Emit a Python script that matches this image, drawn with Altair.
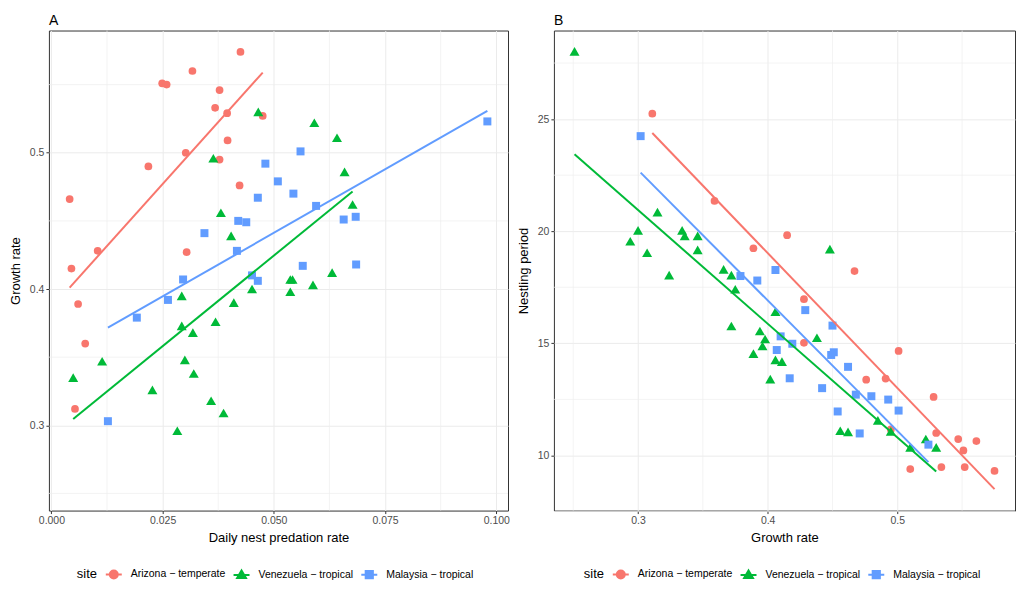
import altair as alt
import pandas as pd

SITES = ["Arizona − temperate", "Venezuela − tropical", "Malaysia − tropical"]
COLORS = ["#F8766D", "#00BA38", "#619CFF"]
SHAPES = ["circle", "triangle-up", "square"]
SIZES = [60, 100, 64]

# ---------- Panel A: daily nest predation rate vs growth rate ----------
A_AZ_PRED = [0.0041, 0.0045, 0.0060, 0.0076, 0.0053, 0.0104, 0.0218, 0.0249, 0.0259, 0.0317,
             0.0302, 0.0304, 0.0368, 0.0378, 0.0378, 0.0395, 0.0396, 0.0425, 0.0423, 0.0475]
A_AZ_GROWTH = [0.466, 0.415, 0.389, 0.360, 0.312, 0.428, 0.490, 0.551, 0.550, 0.560,
               0.500, 0.427, 0.533, 0.546, 0.495, 0.529, 0.509, 0.574, 0.476, 0.527]

A_VE_PRED = [0.0049, 0.0114, 0.0227, 0.0283, 0.0293, 0.0293, 0.0300, 0.0318, 0.0320, 0.0359,
             0.0387, 0.0369, 0.0410, 0.0451, 0.0404, 0.0381, 0.0364, 0.0465, 0.0591, 0.0642,
             0.0659, 0.0677, 0.0537, 0.0542, 0.0588, 0.0631, 0.0537]
A_VE_GROWTH = [0.335, 0.347, 0.326, 0.296, 0.395, 0.373, 0.348, 0.368, 0.338, 0.318,
               0.309, 0.376, 0.390, 0.400, 0.439, 0.456, 0.496, 0.530, 0.522, 0.511,
               0.486, 0.462, 0.407, 0.407, 0.403, 0.412, 0.398]

A_MA_PRED = [0.0127, 0.0192, 0.0262, 0.0296, 0.0344, 0.0417, 0.0420, 0.0438, 0.0451, 0.0464,
             0.0464, 0.0481, 0.0509, 0.0560, 0.0544, 0.0595, 0.0657, 0.0684, 0.0980, 0.0565,
             0.0685]
A_MA_GROWTH = [0.303, 0.379, 0.392, 0.407, 0.441, 0.428, 0.450, 0.449, 0.410, 0.406,
               0.467, 0.492, 0.479, 0.501, 0.470, 0.461, 0.451, 0.453, 0.523, 0.417,
               0.418]

# ---------- Panel B: growth rate vs nestling period ----------
B_AZ_GROWTH = [0.311, 0.359, 0.389, 0.415, 0.467, 0.428, 0.428, 0.501, 0.476, 0.491,
               0.528, 0.530, 0.547, 0.561, 0.551, 0.495, 0.510, 0.534, 0.552, 0.575]
B_AZ_NEST = [25.24, 21.35, 19.24, 19.82, 18.22, 16.97, 15.02, 14.66, 13.38, 13.43,
             12.61, 11.00, 10.73, 10.64, 10.22, 11.16, 9.39, 9.48, 9.48, 9.31]

B_VE_GROWTH = [0.251, 0.315, 0.300, 0.294, 0.307, 0.334, 0.336, 0.346, 0.346, 0.324,
               0.366, 0.372, 0.375, 0.372, 0.394, 0.398, 0.396, 0.389, 0.406, 0.406,
               0.411, 0.402, 0.448, 0.438, 0.456, 0.462, 0.485, 0.495, 0.510, 0.522,
               0.530]
B_VE_NEST = [28.02, 20.85, 20.04, 19.55, 19.04, 20.04, 19.79, 19.79, 19.17, 18.04,
             18.30, 18.04, 17.41, 15.77, 15.55, 15.19, 14.88, 14.54, 16.41, 14.26,
             14.18, 13.40, 19.20, 15.25, 11.10, 11.05, 11.56, 11.07, 10.36, 10.73,
             10.36]

B_MA_GROWTH = [0.302, 0.379, 0.392, 0.406, 0.429, 0.450, 0.410, 0.419, 0.407, 0.449,
               0.451, 0.462, 0.417, 0.442, 0.468, 0.480, 0.493, 0.501, 0.454, 0.471,
               0.524]
B_MA_NEST = [24.24, 18.00, 17.80, 18.27, 16.48, 15.79, 15.31, 14.98, 14.70, 14.48,
             14.60, 13.95, 13.44, 13.00, 12.71, 12.64, 12.49, 12.00, 11.96, 10.98,
             10.48]

A_XTICKS = [0.0, 0.025, 0.05, 0.075, 0.1]
A_XMINOR = [0.0125, 0.0375, 0.0625, 0.0875]
A_YTICKS = [0.3, 0.4, 0.5]
A_YMINOR = [0.25, 0.35, 0.45, 0.55]
B_XTICKS = [0.3, 0.4, 0.5]
B_XMINOR = [0.25, 0.35, 0.45, 0.55]
B_YTICKS = [10, 15, 20, 25]
B_YMINOR = [7.5, 12.5, 17.5, 22.5, 27.5]

FONT = "Liberation Sans"

# legend glyphs: line through a point (like ggplot point+line keys)
LEGEND_PATHS = [
    "M-1,0L1,0M0.5,0A0.5,0.5,0,1,1,-0.5,0A0.5,0.5,0,1,1,0.5,0Z",
    "M-1,0L1,0M0,-0.55L0.55,0.38L-0.55,0.38Z",
    "M-1,0L1,0M-0.45,-0.45L0.45,-0.45L0.45,0.45L-0.45,0.45Z",
]


def frame(groups):
    rows = []
    for site, xs, ys in groups:
        for a, b in zip(xs, ys):
            rows.append({"site": site, "x": a, "y": b})
    return pd.DataFrame(rows)


def panel(df, title, xdom, ydom, xticks, yticks, xminor, yminor, xtitle, ytitle,
          xfmt, yfmt, w, h, legx):
    color_scale = alt.Scale(domain=SITES, range=COLORS)
    xs = alt.X("x:Q", scale=alt.Scale(domain=xdom, nice=False, zero=False),
               axis=alt.Axis(values=xticks, format=xfmt, title=xtitle))
    ys = alt.Y("y:Q", scale=alt.Scale(domain=ydom, nice=False, zero=False),
               axis=alt.Axis(values=yticks, format=yfmt, title=ytitle, titlePadding=7))

    layers = []
    layers.append(alt.Chart(pd.DataFrame({"x": xminor})).mark_rule(
        color="#EEEEEE", strokeWidth=0.7).encode(x=xs))
    layers.append(alt.Chart(pd.DataFrame({"y": yminor})).mark_rule(
        color="#EEEEEE", strokeWidth=0.7).encode(y=ys))
    for site, col, shp, sz in zip(SITES, COLORS, SHAPES, SIZES):
        layers.append(alt.Chart(df).transform_filter(
            alt.datum.site == site).mark_point(
            shape=shp, filled=True, opacity=1, size=sz, color=col).encode(
            x=xs, y=ys))
    for site, col in zip(SITES, COLORS):
        layers.append(alt.Chart(df).transform_filter(
            alt.datum.site == site).transform_regression(
            "x", "y").mark_line(strokeWidth=2, color=col).encode(x=xs, y=ys))

    leg = alt.Legend(title="site", orient="none", legendX=legx, legendY=h + 55,
                     direction="horizontal", titleOrient="left", titlePadding=7,
                     symbolSize=256, symbolStrokeWidth=2, labelOffset=8,
                     columnPadding=4, titleFontSize=13, labelFontSize=10.5,
                     titleFontWeight="normal", titleFont=FONT, labelFont=FONT,
                     titleColor="#000000", labelColor="#000000",
                     titleBaseline="middle", symbolOpacity=1)
    layers.append(alt.Chart(pd.DataFrame({"site": SITES})).transform_filter(
        "false").mark_point(filled=True, opacity=1, strokeWidth=2).encode(
        color=alt.Color("site:N", scale=color_scale, legend=leg),
        stroke=alt.Stroke("site:N", scale=color_scale, legend=leg),
        shape=alt.Shape("site:N", scale=alt.Scale(domain=SITES, range=LEGEND_PATHS),
                        legend=leg)))

    return alt.layer(*layers).properties(
        width=w, height=h,
        title=alt.TitleParams(title, anchor="start", frame="group", fontSize=14,
                              fontWeight="normal", font=FONT, color="#000000",
                              offset=2.5))


dfA = frame([(SITES[0], A_AZ_PRED, A_AZ_GROWTH),
             (SITES[1], A_VE_PRED, A_VE_GROWTH),
             (SITES[2], A_MA_PRED, A_MA_GROWTH)])
dfB = frame([(SITES[0], B_AZ_GROWTH, B_AZ_NEST),
             (SITES[1], B_VE_GROWTH, B_VE_NEST),
             (SITES[2], B_MA_GROWTH, B_MA_NEST)])

pA = panel(dfA, "A", [-0.00056, 0.10264], [0.2374, 0.5897], A_XTICKS, A_YTICKS,
           A_XMINOR, A_YMINOR, "Daily nest predation rate", "Growth rate",
           ".3f", ".1f", 460, 481, 28)
pB = panel(dfB, "B", [0.2351, 0.5908], [7.54, 28.95], B_XTICKS, B_YTICKS,
           B_XMINOR, B_YMINOR, "Growth rate", "Nestling period",
           ".1f", "d", 462, 481, 30)

chart = alt.hconcat(pA, pB, spacing=6).resolve_scale(
    color="independent", shape="independent", stroke="independent",
    x="independent", y="independent").resolve_legend(
    color="independent", shape="independent", stroke="independent").properties(
    padding={"left": 0, "top": 4, "right": 0, "bottom": 0}).configure(
    background="white").configure_view(
    stroke="#333333", strokeWidth=1).configure_axis(
    labelFont=FONT, titleFont=FONT, labelFontSize=10.5, titleFontSize=13,
    labelColor="#4D4D4D", titleColor="#000000", titleFontWeight="normal",
    tickColor="#333333", tickSize=3, tickWidth=1, labelPadding=2,
    domain=False, gridColor="#EBEBEB", gridWidth=1, titlePadding=5)

chart.save("out.html", embed_options={"renderer": "svg", "actions": False})
